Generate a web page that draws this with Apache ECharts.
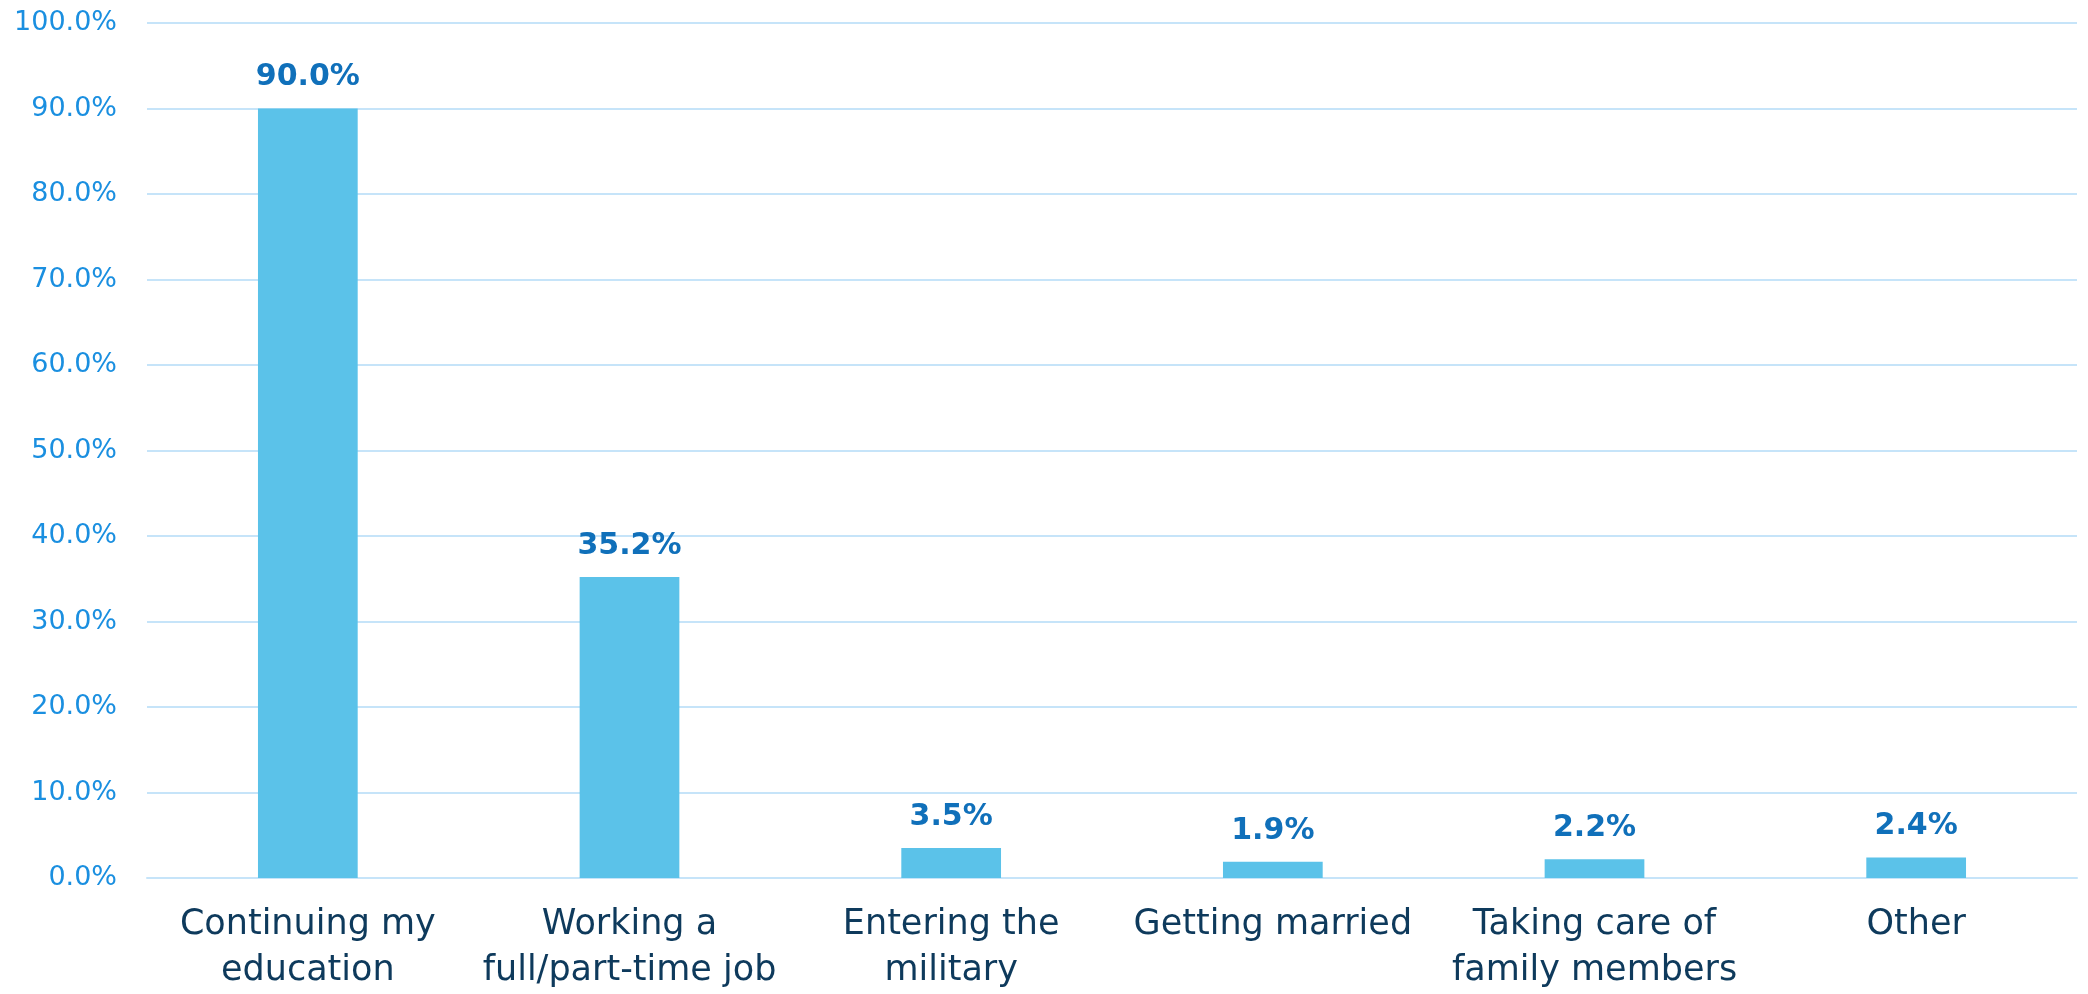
<!DOCTYPE html>
<html>
<head>
<meta charset="utf-8">
<script src="https://cdn.jsdelivr.net/npm/echarts@6/dist/echarts.min.js"></script>
<style>
  html, body { margin: 0; padding: 0; background: #ffffff; }
  #chart { width: 2088px; height: 994px; }
</style>
</head>
<body>
<div id="chart"></div>
<script>
const categories = [
  "Continuing my\neducation",
  "Working a\nfull/part-time job",
  "Entering the\nmilitary",
  "Getting married",
  "Taking care of\nfamily members",
  "Other"
];
const values = [90.0, 35.2, 3.5, 1.9, 2.2, 2.4];
const yTicks = { min: 0, max: 100, interval: 10 };

const FONT = "'DejaVu Sans', 'Noto Sans', sans-serif";
const chart = echarts.init(document.getElementById('chart'));
chart.setOption({
  backgroundColor: '#ffffff',
  animation: false,
  grid: { left: 147, right: 11, top: 23, bottom: 114, containLabel: false },
  xAxis: {
    type: 'category',
    data: categories,
    axisLine: { show: true, lineStyle: { color: '#C6E4F9', width: 2 } },
    axisTick: { show: false },
    axisLabel: {
      interval: 0,
      margin: 24,
      color: '#0E3A5C',
      fontFamily: FONT,
      fontSize: 35,
      lineHeight: 46
    }
  },
  yAxis: {
    type: 'value',
    min: yTicks.min,
    max: yTicks.max,
    interval: yTicks.interval,
    axisLine: { show: false },
    axisTick: { show: false },
    splitLine: { lineStyle: { color: '#C6E4F9', width: 2 } },
    axisLabel: {
      margin: 30,
      color: '#1A8FE0',
      fontFamily: FONT,
      fontSize: 27,
      formatter: v => v.toFixed(1) + '%'
    }
  },
  series: [{
    type: 'bar',
    data: values,
    barWidth: '31%',
    itemStyle: { color: '#5BC2E9' },
    label: {
      show: true,
      position: 'top',
      distance: 16,
      color: '#1070BA',
      fontFamily: FONT,
      fontWeight: 'bold',
      fontSize: 30,
      formatter: p => p.value.toFixed(1) + '%'
    }
  }]
});
</script>
</body>
</html>
